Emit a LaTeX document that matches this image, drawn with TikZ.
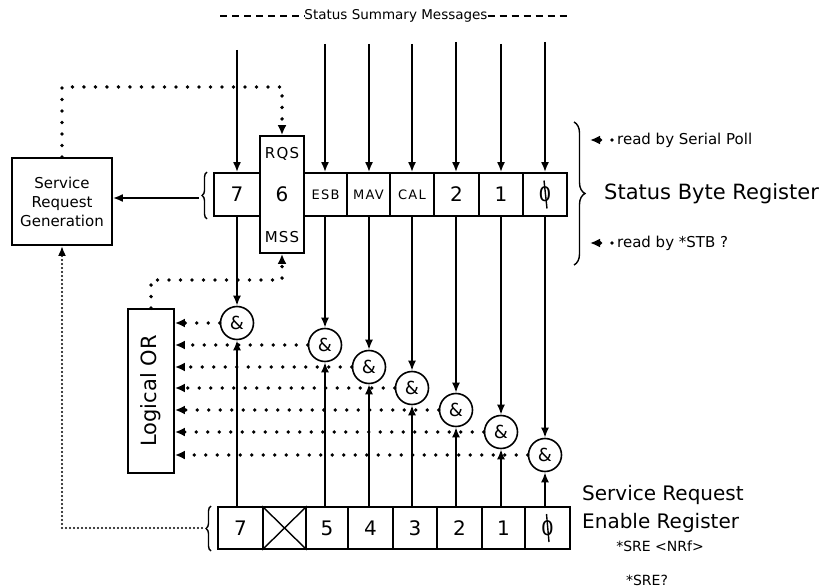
\documentclass[tikz,border=0pt]{standalone}
\usepackage{fontspec}
\setmainfont{DejaVu Sans}
\usetikzlibrary{arrows.meta,decorations.pathreplacing}
\newcommand{\fs}[1]{\fontsize{#1}{#1}\selectfont}
\begin{document}
\begin{tikzpicture}[x=1pt,y=-1pt,
  cell/.style={draw, line width=1.8pt, inner sep=0pt, minimum height=43pt, font=\fs{20}},
  scell/.style={draw, line width=1.8pt, inner sep=0pt, minimum height=42pt, font=\fs{20}},
  small/.style={font=\fs{13}\addfontfeature{LetterSpace=10}},
  gate/.style={draw, circle, line width=1.6pt, minimum size=33pt, inner sep=0pt, font=\fs{18}},
  arr/.style={line width=1.8pt, -{Latex[length=10pt,width=8pt]}},
  dotline/.style={line width=3.8pt, line cap=round, dash pattern=on 0pt off 11.5pt},
  dotarr/.style={dotline, -{Latex[length=10pt,width=9pt]}},
  fineline/.style={line width=2.4pt, line cap=round, dash pattern=on 0pt off 4pt, -{Latex[length=10pt,width=8pt]}},
  brc/.style={line width=1.4pt, decorate},
  lbl/.style={inner sep=0pt}
]
\useasboundingbox (0,0) rectangle (827,588);

% title
\node[lbl, font=\fs{13.5}] (title) at (396,16) {Status Summary Messages};
\draw[line width=1.4pt, dash pattern=on 7pt off 5pt] (220,16) -- (title.west);
\draw[line width=1.4pt, dash pattern=on 7pt off 5pt] (title.east) -- (567,16);

% status byte register
\node[cell, minimum width=46pt] (t7) at (237,194.5) {7};
\node[cell, minimum width=43pt, small] (tesb) at (325.5,194.5) {ESB};
\node[cell, minimum width=43pt, small] (tmav) at (368.5,194.5) {MAV};
\node[cell, minimum width=44pt, small] (tcal) at (412,194.5) {CAL};
\node[cell, minimum width=45pt] (t2) at (456.5,194.5) {2};
\node[cell, minimum width=44pt] (t1) at (501,194.5) {1};
\node[cell, minimum width=44pt] (t0) at (545,194.5) {0};
\node[cell, fill=white, minimum width=44pt, minimum height=117pt] (t6) at (282,194.5) {6};
\node[lbl, font=\fs{15}\addfontfeature{LetterSpace=8}] (rqs) at (282,154) {RQS};
\node[lbl, font=\fs{15}\addfontfeature{LetterSpace=8}] (mss) at (282,237) {MSS};
\draw[line width=1.4pt] ([xshift=2pt,yshift=-14pt]t0.center) -- ([xshift=-1pt,yshift=14pt]t0.center);

% AND gates
\node[gate] (g7) at (237,323) {\&};
\node[gate] (g5) at (325,345) {\&};
\node[gate] (g4) at (369,367) {\&};
\node[gate] (g3) at (412,388) {\&};
\node[gate] (g2) at (456,410) {\&};
\node[gate] (g1) at (501,432) {\&};
\node[gate] (g0) at (545,455) {\&};

% inputs from top
\foreach \n/\g/\y in {7/g7/50, esb/g5/44, mav/g4/44, cal/g3/44, 2/g2/42, 1/g1/44, 0/g0/42}{
  \coordinate (in\n) at ([yshift=0pt]\g |- 0,\y);
  \draw[arr] (in\n) -- (\g |- t\n.north);
  \draw[arr] (\g |- t\n.south) -- (\g.north);
}

% service request enable register
\node[scell, minimum width=45pt] (s7) at (240.5,528) {7};
\node[scell, minimum width=43pt] (sx) at (284.5,528) {};
\draw[line width=1.4pt] (sx.north west) -- (sx.south east) (sx.south west) -- (sx.north east);
\node[scell, minimum width=42pt] (s5) at (327,528) {5};
\node[scell, minimum width=45pt] (s4) at (370.5,528) {4};
\node[scell, minimum width=44pt] (s3) at (415,528) {3};
\node[scell, minimum width=45pt] (s2) at (459.5,528) {2};
\node[scell, minimum width=43pt] (s1) at (503.5,528) {1};
\node[scell, minimum width=45pt] (s0) at (547.5,528) {0};
\draw[line width=1.4pt] ([xshift=1.5pt,yshift=-14pt]s0.center) -- ([xshift=-1pt,yshift=14pt]s0.center);

\draw[arr] (g7 |- s7.north) -- (g7.south);
\draw[arr] (g5 |- s5.north) -- (g5.south);
\draw[arr] (g4 |- s4.north) -- (g4.south);
\draw[arr] (g3 |- s3.north) -- (g3.south);
\draw[arr] (g2 |- s2.north) -- (g2.south);
\draw[arr] (g1 |- s1.north) -- (g1.south);
\draw[arr] (g0 |- s0.north) -- (g0.south);

% logical OR
\node[draw, line width=1.8pt, minimum width=46pt, minimum height=164pt, inner sep=0pt] (orb) at (151,391) {};
\node[lbl, rotate=90, font=\fs{21}] (ortxt) at (orb.center) {Logical OR};
\foreach \g in {g7,g5,g4,g3,g2,g1,g0}{
  \draw[dotarr] (\g.west) -- (\g.west -| orb.east);
}

% service request generation
\node[draw, line width=1.8pt, minimum width=100pt, minimum height=87pt, align=center, font=\fs{15}, inner sep=0pt] (srg) at (62,201.5) {Service\\[4pt]Request\\[4pt]Generation};

% braces
\draw[brc, decoration={brace, amplitude=5pt}] (207,219) -- (207,172);
\draw[brc, decoration={brace, amplitude=5pt}] (211,551) -- (211,506);
\draw[brc, decoration={brace, amplitude=11pt}] (574,122) -- (574,265);

% to SRG from status byte
\coordinate (bl) at (199,198);
\draw[arr] (bl) -- (bl -| srg.east);

% dotted SRG -> RQS
\coordinate (c1) at (282,87);
\draw[dotarr] (srg.north) |- (c1) -- (t6.north);

% dotted OR -> MSS
\coordinate (c2) at (282,280);
\draw[dotarr] (orb.north) |- (c2) -- (t6.south);

% SRE -> SRG
\coordinate (bb) at (202,528);
\draw[fineline] (bb) -| (srg.south);

% right side labels
\coordinate (a1) at (612,140);
\draw[dotarr] (a1) -- (590,140);
\node[lbl, anchor=west, font=\fs{15}] (rsp) at (617,140) {read by Serial Poll};
\node[lbl, anchor=west, font=\fs{21}] (sbr) at (604,194) {Status Byte Register};
\coordinate (a2) at (612,243);
\draw[dotarr] (a2) -- (590,243);
\node[lbl, anchor=west, font=\fs{15}] (rstb) at (617,243) {read by *STB ?};

\node[lbl, anchor=west, font=\fs{20}] (sre1) at (582,495) {Service Request};
\node[lbl, anchor=west, font=\fs{20}] (sre2) at (582,523) {Enable Register};
\node[lbl, font=\fs{14}] (sre3) at (660,546) {*SRE <NRf>};
\node[lbl, font=\fs{14}] (sre4) at (647,580) {*SRE?};
\end{tikzpicture}
\end{document}
